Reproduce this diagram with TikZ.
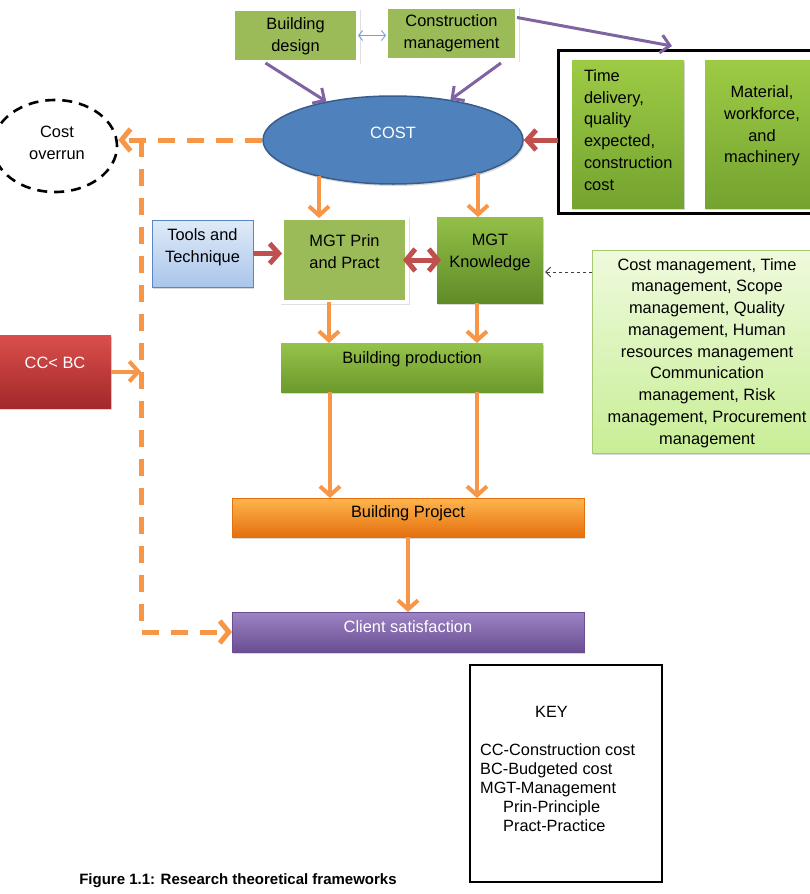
\documentclass[tikz,border=0pt]{standalone}
\usepackage{fontspec}
\setmainfont{Liberation Sans}
\usetikzlibrary{arrows.meta,shapes.geometric,shadows}
\definecolor{gOlive}{HTML}{9BBB59}
\definecolor{gTop}{HTML}{9DCB45}
\definecolor{gBot}{HTML}{74A330}
\definecolor{kTop}{HTML}{93BF48}
\definecolor{kBot}{HTML}{5F8C27}
\definecolor{pTop}{HTML}{96C349}
\definecolor{pBot}{HTML}{6B9A2D}
\definecolor{lgTop}{HTML}{EFFADD}
\definecolor{lgBot}{HTML}{C8EE96}
\definecolor{lgEdge}{HTML}{A7C771}
\definecolor{tTop}{HTML}{E0EBF8}
\definecolor{tBot}{HTML}{A9C5EB}
\definecolor{tEdge}{HTML}{5B86C5}
\definecolor{cBlue}{HTML}{4F81BD}
\definecolor{cBlueDark}{HTML}{385D8A}
\definecolor{cOrange}{HTML}{F79646}
\definecolor{cPurple}{HTML}{8064A2}
\definecolor{cRed}{HTML}{C0504D}
\definecolor{bpTop}{HTML}{FFB54D}
\definecolor{bpBot}{HTML}{E4700E}
\definecolor{csTop}{HTML}{9D84C2}
\definecolor{csBot}{HTML}{6A4E94}
\definecolor{ccTop}{HTML}{DA4F4C}
\definecolor{ccBot}{HTML}{A3282A}
\definecolor{lblue}{HTML}{7BA0D4}
\newcommand\mydiagfont{\fontsize{16.4}{21.75}\selectfont}
\newcommand\mykeyfont{\fontsize{16.3}{19}\selectfont}
\begin{document}
\begin{tikzpicture}[x=1pt,y=-1pt,
  box/.style={rectangle, inner sep=0pt, outer sep=0pt},
  shad/.style={drop shadow={shadow xshift=1.2pt,shadow yshift=-2pt,opacity=0.3}},
  wshad/.style={drop shadow={shadow xshift=0.8pt,shadow yshift=-1.5pt,shadow scale=1.035,opacity=0.25}},
  gflat/.style={box, fill=gOlive, draw=white, line width=3.5pt, wshad},
  ggrad/.style={box, top color=gTop, bottom color=gBot, shad},
  txt/.style={inner sep=0pt, outer sep=0pt, font=\mydiagfont, align=center, text=black},
  oarr/.style={draw=cOrange, line width=4pt, -{Straight Barb[length=9pt,width=20pt]}},
  odash/.style={draw=cOrange, line width=5pt, dash pattern=on 17pt off 12pt, -{Straight Barb[length=9pt,width=22pt]}},
  parr/.style={draw=cPurple, line width=3pt, -{Straight Barb[length=9pt,width=18pt]}},
  rarr/.style={draw=cRed, line width=5pt, -{Straight Barb[length=9pt,width=20pt]}},
  rdbl/.style={draw=cRed, line width=5pt, {Straight Barb[length=9pt,width=22pt]}-{Straight Barb[length=9pt,width=22pt]}},
  barr/.style={draw=lblue, line width=0.9pt, {Straight Barb[length=4pt,width=10pt]}-{Straight Barb[length=4pt,width=10pt]}},
  garr/.style={draw=black!75, line width=0.9pt, dashed, -{Straight Barb[length=5pt,width=10pt]}, shorten >=2pt}
]
\fill[white] (0,0) rectangle (810,894);
\useasboundingbox (0,0) rectangle (810,894);

% top boxes
\node[gflat, minimum width=125pt, minimum height=53pt] (bd) at (295.5,35.5) {};
\node[txt] (bdt) at (295.5,36) {Building\\design};
\node[gflat, minimum width=131pt, minimum height=53pt] (cm) at (451.5,33.5) {};
\node[txt] (cmt) at (451.5,33) {Construction\\management};

% COST ellipse
\node[ellipse, minimum width=260pt, minimum height=88pt, inner sep=0pt, fill=cBlue, draw=cBlueDark, line width=1.5pt, shad] (cost) at (393,140) {};
\node[txt, text=white] (costt) at (393,133) {COST};

% black frame with two green boxes
\node[box, draw=black, line width=3pt, minimum width=254pt, minimum height=163pt] (blk) at (685,131.5) {};
\node[ggrad, minimum width=112pt, minimum height=148pt] (td) at (628,134) {};
\node[txt, align=left, anchor=west] (tdt) at (584,130) {Time\\delivery,\\quality\\expected,\\construction\\cost};
\node[ggrad, minimum width=114pt, minimum height=148pt] (mw) at (762,134) {};
\node[txt] (mwt) at (762,126) {Material,\\workforce,\\and\\machinery};

% cost overrun
\node[ellipse, minimum width=124pt, minimum height=92pt, inner sep=0pt, draw=black, line width=2.6pt, dash pattern=on 10pt off 7pt] (ovr) at (55,146) {};
\node[txt] (ovrt) at (57,142.5) {Cost\\overrun};

% middle row
\node[box, top color=tTop, bottom color=tBot, draw=tEdge, line width=1pt, minimum width=101pt, minimum height=67pt, shad] (tools) at (202.5,253.5) {};
\node[txt] (toolst) at (202.5,247.5) {Tools and\\Technique};
\node[gflat, minimum width=125pt, minimum height=84pt] (mp) at (344.5,260) {};
\node[txt] (mpt) at (344.5,252) {MGT Prin\\and Pract};
\node[box, top color=kTop, bottom color=kBot, minimum width=106pt, minimum height=86pt, shad] (mk) at (490,260) {};
\node[txt] (mkt) at (490,252.5) {MGT\\Knowledge};

% light green list
\node[box, top color=lgTop, bottom color=lgBot, draw=lgEdge, line width=1pt, minimum width=218pt, minimum height=203pt, shad] (lg) at (701,351.5) {};
\node[txt] (lgt) at (707,353) {Cost management, Time\\management, Scope\\management, Quality\\management, Human\\resources management\\Communication\\management, Risk\\management, Procurement\\management};

% production / project / satisfaction
\node[box, top color=pTop, bottom color=pBot, minimum width=262pt, minimum height=49pt, shad] (bprod) at (412,367.5) {};
\node[txt] (bprodt) at (412,359) {Building production};
\node[box, top color=bpTop, bottom color=bpBot, draw=bpBot, line width=0.8pt, minimum width=352pt, minimum height=39pt, shad] (bproj) at (408,517.5) {};
\node[txt] (bprojt) at (408,513) {Building Project};
\node[box, top color=csTop, bottom color=csBot, draw=csBot, line width=0.8pt, minimum width=352pt, minimum height=40pt, shad] (cs) at (408,632) {};
\node[txt, text=white] (cst) at (408,627) {Client satisfaction};

% CC < BC
\node[box, top color=ccTop, bottom color=ccBot, minimum width=122pt, minimum height=73pt, shad] (cc) at (50,371.5) {};
\node[txt, text=white] (cct) at (55,363) {CC< BC};

% key
\node[box, draw=black, line width=2.5pt, minimum width=192pt, minimum height=217pt] (key) at (566,773.5) {};
\node[inner sep=0pt, font=\mykeyfont, align=left, anchor=west] (keyt) at (480,769) {\hspace*{55pt}KEY\\ \\CC-Construction cost\\BC-Budgeted cost\\MGT-Management\\\hspace*{23pt}Prin-Principle\\\hspace*{23pt}Pract-Practice};

% caption
\node[inner sep=0pt, font=\fontsize{15}{18}\selectfont\bfseries] (cap) at (238,881) {Figure 1.1: Research theoretical frameworks};

% connectors
\draw[barr] (bd.east) -- (bd.east -| cm.west);
\draw[parr] ([yshift=16pt]cm.east) -- ([xshift=-13pt,yshift=4pt]blk.north);
\draw[parr] ([xshift=-30pt,yshift=-1pt]bd.south) -- (cost.150);
\draw[parr] ([xshift=49.5pt,yshift=-3pt]cm.south) -- (cost.35);
\draw[rarr] (blk.west |- cost.east) -- (cost.east);

\coordinate (bend) at (141,140);
\draw[odash] (cost.west) -- (ovr.east |- cost.west);
\draw[odash] (bend) |- (cs.west);
\draw[oarr] (cc.east) -- (cc.east -| bend);

\draw[oarr] ([xshift=-74pt,yshift=9pt]cost.south) -- ([xshift=-25.5pt]mp.north);
\draw[oarr] ([xshift=85pt,yshift=12pt]cost.south) -- ([xshift=-12pt]mk.north);
\draw[rarr] (tools.east) -- (tools.east -| mp.west);
\draw[rdbl] ([xshift=-4pt]mp.east |- mk.west) -- ([xshift=4pt]mk.west);
\coordinate (kin) at ([yshift=-12pt]mk.east);
\draw[garr] (lg.west |- kin) -- (kin);

\draw[oarr] ([xshift=-15.5pt]mp.south) -- ([xshift=-15.5pt]mp.south |- bprod.north);
\draw[oarr] ([xshift=-13pt]mk.south) -- ([xshift=-13pt]mk.south |- bprod.north);
\draw[oarr] ([xshift=-82pt]bprod.south) -- ([xshift=-82pt]bprod.south |- bproj.north);
\draw[oarr] ([xshift=65pt]bprod.south) -- ([xshift=65pt]bprod.south |- bproj.north);
\draw[oarr] (bproj.south) -- (cs.north);
\end{tikzpicture}
\end{document}
